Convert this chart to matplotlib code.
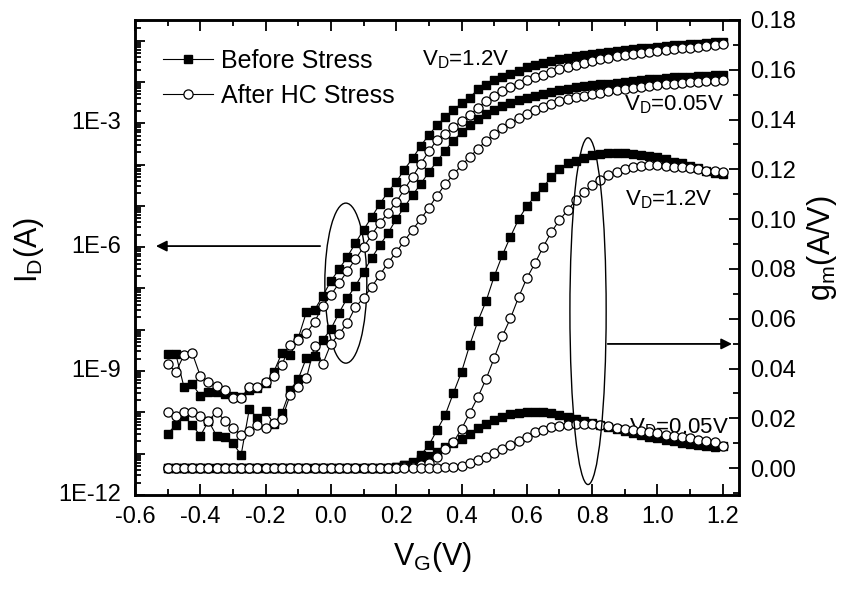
import numpy as np
import matplotlib
matplotlib.use("Agg")
import matplotlib.pyplot as plt
from matplotlib.patches import Ellipse
from matplotlib.ticker import LogLocator, MultipleLocator, NullFormatter, FormatStrFormatter

plt.rcParams["font.family"] = ["Liberation Sans", "DejaVu Sans"]
plt.rcParams["mathtext.fontset"] = "custom"
plt.rcParams["mathtext.rm"] = "Liberation Sans"

# gate sweep, V
vg = np.round(np.arange(-0.5, 1.2001, 0.025), 3)

# log10(I_D)
log_id_before_12 = [
    -8.59, -8.59, -9.39, -9.31, -9.60, -9.50, -9.50, -9.55, -9.60, -9.62,
    -9.45, -9.40, -9.28, -9.02, -8.56, -8.61, -8.20, -7.57, -7.52, -7.18,
    -6.82, -6.53, -6.24, -5.90, -5.58, -5.27, -4.95, -4.66, -4.42, -4.12,
    -3.85, -3.55, -3.28, -3.05, -2.85, -2.68, -2.52, -2.38, -2.18, -2.07,
    -1.96, -1.88, -1.80, -1.74, -1.63, -1.58, -1.54, -1.50, -1.45, -1.41,
    -1.38, -1.35, -1.32, -1.29, -1.27, -1.25, -1.23, -1.21, -1.19, -1.17,
    -1.15, -1.13, -1.11, -1.10, -1.08, -1.07, -1.05, -1.04, -1.03]
log_id_after_12 = [
    -8.83, -9.02, -8.61, -8.56, -9.12, -9.26, -9.36, -9.46, -9.65, -9.65,
    -9.39, -9.39, -9.26, -9.12, -8.85, -8.37, -8.25, -8.08, -7.81, -7.42,
    -7.16, -6.87, -6.58, -6.29, -6.00, -5.70, -5.41, -5.17, -4.91, -4.60,
    -4.30, -3.98, -3.68, -3.40, -3.25, -3.10, -2.95, -2.80, -2.63, -2.46,
    -2.33, -2.22, -2.12, -2.04, -1.96, -1.89, -1.82, -1.75, -1.69, -1.63,
    -1.58, -1.53, -1.49, -1.45, -1.41, -1.38, -1.35, -1.32, -1.29, -1.27,
    -1.25, -1.23, -1.21, -1.19, -1.17, -1.15, -1.13, -1.11, -1.09]
log_id_before_005 = [
    -10.52, -10.30, -10.10, -10.30, -10.57, -10.21, -10.57, -10.60, -10.75, -11.03,
    -9.92, -10.14, -9.97, -10.28, -10.01, -9.46, -9.19, -8.68, -8.63, -8.25,
    -7.98, -7.59, -7.23, -6.94, -6.60, -6.26, -5.95, -5.66, -5.32, -5.03,
    -4.74, -4.47, -4.18, -3.92, -3.66, -3.42, -3.22, -3.05, -2.90, -2.78,
    -2.67, -2.58, -2.50, -2.44, -2.38, -2.33, -2.28, -2.24, -2.20, -2.16,
    -2.13, -2.10, -2.08, -2.06, -2.04, -2.02, -2.00, -1.98, -1.96, -1.94,
    -1.92, -1.91, -1.89, -1.88, -1.87, -1.86, -1.85, -1.84, -1.83]
log_id_after_005 = [
    -10.00, -10.10, -10.00, -9.99, -10.09, -10.20, -9.99, -10.20, -10.38, -10.55,
    -10.45, -10.30, -10.38, -10.25, -10.16, -9.58, -9.39, -9.17, -8.39, -8.83,
    -8.34, -8.10, -7.84, -7.45, -7.23, -6.96, -6.67, -6.38, -6.12, -5.85,
    -5.58, -5.32, -5.05, -4.75, -4.48, -4.24, -4.02, -3.82, -3.62, -3.43,
    -3.26, -3.12, -3.00, -2.88, -2.77, -2.68, -2.60, -2.53, -2.47, -2.41,
    -2.37, -2.33, -2.29, -2.26, -2.23, -2.20, -2.17, -2.14, -2.12, -2.10,
    -2.08, -2.06, -2.04, -2.02, -2.01, -1.99, -1.98, -1.97, -1.95]

# g_m (A/V)
gm_before_12 = [0.0] * 28 + [
    0.0005, 0.0012, 0.0025, 0.0052, 0.0092, 0.0153, 0.0213, 0.0301, 0.0386, 0.0494,
    0.0590, 0.0670, 0.0770, 0.0855, 0.0930, 0.1000, 0.1052, 0.1092, 0.1130, 0.1168,
    0.1203, 0.1225, 0.1233, 0.1245, 0.1257, 0.1261, 0.1265, 0.1265, 0.1265, 0.1261,
    0.1257, 0.1253, 0.1249, 0.1241, 0.1230, 0.1225, 0.1213, 0.1205, 0.1193, 0.1185,
    0.1180]
gm_after_12 = [0.0] * 29 + [
    0.0003, 0.0006, 0.0012, 0.0020, 0.0044, 0.0076, 0.0104, 0.0157, 0.0221, 0.0285,
    0.0357, 0.0442, 0.0530, 0.0602, 0.0687, 0.0763, 0.0823, 0.0888, 0.0948, 0.0996,
    0.1036, 0.1076, 0.1108, 0.1137, 0.1157, 0.1177, 0.1189, 0.1201, 0.1209, 0.1213,
    0.1217, 0.1217, 0.1213, 0.1209, 0.1209, 0.1205, 0.1201, 0.1193, 0.1193, 0.1190]
gm_before_005 = [0.0] * 28 + [
    0.0006, 0.0012, 0.0022, 0.0035, 0.0050, 0.0066, 0.0083, 0.0100, 0.0118, 0.0135,
    0.0160, 0.0178, 0.0193, 0.0205, 0.0217, 0.0223, 0.0225, 0.0226, 0.0225, 0.0222,
    0.0214, 0.0207, 0.0198, 0.0190, 0.0182, 0.0172, 0.0164, 0.0156, 0.0148, 0.0140,
    0.0132, 0.0125, 0.0119, 0.0113, 0.0107, 0.0101, 0.0096, 0.0092, 0.0088, 0.0086,
    0.0088]
gm_after_005 = [0.0] * 32 + [
    0.0001, 0.0002, 0.0004, 0.0006, 0.0009, 0.0019, 0.0032, 0.0045, 0.0059, 0.0077,
    0.0094, 0.0110, 0.0126, 0.0143, 0.0155, 0.0164, 0.0171, 0.0175, 0.0178, 0.0178,
    0.0176, 0.0173, 0.0168, 0.0162, 0.0158, 0.0154, 0.0149, 0.0144, 0.0139, 0.0134,
    0.0130, 0.0125, 0.0119, 0.0114, 0.0110, 0.0105, 0.0090]

legend_labels = ["Before Stress", "After HC Stress"]
id_ticks = [1e-12, 1e-9, 1e-6, 1e-3]
id_ticklabels = ["1E-12", "1E-9", "1E-6", "1E-3"]

sq = dict(marker="s", ms=6.0, mfc="black", mec="black", color="black", lw=0.8)
ci = dict(marker="o", ms=6.6, mfc="white", mec="black", mew=0.9, color="black", lw=0.8)

fig = plt.figure(figsize=(8.53, 5.93), dpi=100)
ax = fig.add_axes([0.1583, 0.1653, 0.7081, 0.801])
ax2 = ax.twinx()

h1, = ax.semilogy(vg, 10.0 ** np.array(log_id_before_12), **sq)
h2, = ax.semilogy(vg, 10.0 ** np.array(log_id_after_12), **ci)
ax.semilogy(vg, 10.0 ** np.array(log_id_before_005), **sq)
ax.semilogy(vg, 10.0 ** np.array(log_id_after_005), **ci)

ax2.plot(vg, gm_before_12, **sq)
ax2.plot(vg, gm_before_005, **sq)
ax2.plot(vg, gm_after_12, **ci)
ax2.plot(vg, gm_after_005, **ci)

ax.set_xlim(-0.6, 1.25)
ax.set_ylim(1e-12, 10 ** -0.5)
ax2.set_ylim(-0.0108, 0.18)

# ticks
ax.xaxis.set_major_locator(MultipleLocator(0.2))
ax.xaxis.set_minor_locator(MultipleLocator(0.1))
ax.xaxis.set_major_formatter(FormatStrFormatter("%.1f"))
ax.yaxis.set_major_locator(LogLocator(base=10, numticks=20))
ax.yaxis.set_minor_locator(LogLocator(base=10, subs=np.arange(2, 10), numticks=20))
ax.yaxis.set_major_formatter(NullFormatter())
ax.yaxis.set_minor_formatter(NullFormatter())
ax2.yaxis.set_major_locator(MultipleLocator(0.02))
ax2.yaxis.set_minor_locator(MultipleLocator(0.01))
ax2.yaxis.set_major_formatter(FormatStrFormatter("%.2f"))

ax.tick_params(axis="x", which="both", direction="in", top=True, labelsize=17, pad=8, width=1.3)
ax.tick_params(axis="x", which="major", length=8)
ax.tick_params(axis="x", which="minor", length=4)
ax.tick_params(axis="y", which="both", direction="in", right=False, width=1.3)
ax.tick_params(axis="y", which="major", length=7)
ax.tick_params(axis="y", which="minor", length=4)
ax2.tick_params(axis="y", which="both", direction="in", labelsize=17, pad=8, width=1.3)
ax2.tick_params(axis="y", which="major", length=7)
ax2.tick_params(axis="y", which="minor", length=4)

# only every third decade is labelled on the left axis
for t, lab in zip(id_ticks, id_ticklabels):
    ax.annotate(lab, xy=(0, t), xycoords=("axes fraction", "data"), xytext=(-10, 0),
                textcoords="offset points", ha="right", va="center", fontsize=17)

for a in (ax, ax2):
    for s in a.spines.values():
        s.set_linewidth(1.8)

ax.set_xlabel(r"$\mathregular{V_G}$(V)", fontsize=22)
ax.xaxis.set_label_coords(0.492, -0.095)
ax.set_ylabel(r"$\mathregular{I_D}$(A)", fontsize=22)
ax.yaxis.set_label_coords(-0.147, 0.516)
ax2.set_ylabel(r"$\mathregular{g_m}$(A/V)", fontsize=22)
ax2.yaxis.set_label_coords(1.109, 0.52)

ax.legend([h1, h2], legend_labels, loc="upper left", bbox_to_anchor=(0.03, 0.96),
          frameon=False, fontsize=18, handlelength=2.0, handletextpad=0.3,
          labelspacing=0.45, borderaxespad=0.0)

ax.text(0.475, 0.905, r"$\mathregular{V_D}$=1.2V", transform=ax.transAxes, fontsize=16)
ax.text(0.809, 0.81, r"$\mathregular{V_D}$=0.05V", transform=ax.transAxes, fontsize=16)
ax.text(0.812, 0.61, r"$\mathregular{V_D}$=1.2V", transform=ax.transAxes, fontsize=16)
ax.text(0.818, 0.13, r"$\mathregular{V_D}$=0.05V", transform=ax.transAxes, fontsize=16)

# ellipses and arrows
ax.add_patch(Ellipse((0.349, 0.446), 0.0695, 0.337, transform=ax.transAxes,
                     fill=False, ec="black", lw=1.0))
ax2.add_patch(Ellipse((0.75, 0.387), 0.06, 0.73, transform=ax.transAxes,
                      fill=False, ec="black", lw=1.0, zorder=5))
ax.annotate("", xy=(0.03, 0.524), xytext=(0.311, 0.524), xycoords="axes fraction",
            arrowprops=dict(arrowstyle="-|>", color="black", lw=1.3, mutation_scale=16))
ax2.annotate("", xy=(0.993, 0.318), xytext=(0.778, 0.318), xycoords="axes fraction",
             arrowprops=dict(arrowstyle="-|>", color="black", lw=1.3, mutation_scale=16))

fig.savefig("out.png", dpi=100)
